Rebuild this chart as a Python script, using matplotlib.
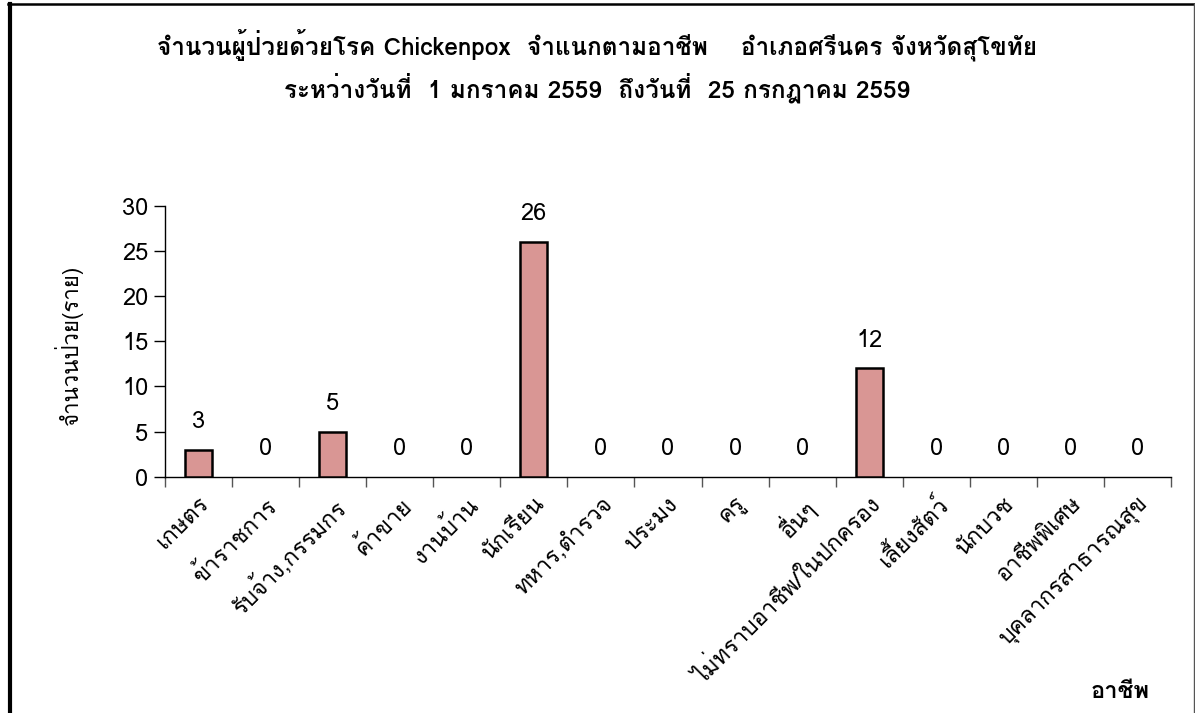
import matplotlib
matplotlib.use("Agg")
import matplotlib.pyplot as plt
from matplotlib import font_manager
from matplotlib.ft2font import FT2Font
from matplotlib.lines import Line2D

# ---------------- data ----------------
categories = ["เกษตร", "ข้าราชการ", "รับจ้าง,กรรมกร", "ค้าขาย", "งานบ้าน", "นักเรียน",
              "ทหาร,ตำรวจ", "ประมง", "ครู", "อื่นๆ", "ไม่ทราบอาชีพ/ในปกครอง",
              "เลี้ยงสัตว์", "นักบวช", "อาชีพพิเศษ", "บุคลากรสาธารณสุข"]
values = [3, 0, 5, 0, 0, 26, 0, 0, 0, 0, 12, 0, 0, 0, 0]
yticks = [0, 5, 10, 15, 20, 25, 30]
title_line1 = "จำนวนผู้ป่วยด้วยโรค Chickenpox  จำแนกตามอาชีพ    อำเภอศรีนคร จังหวัดสุโขทัย"
title_line2 = "ระหว่างวันที่  1 มกราคม 2559  ถึงวันที่  25 กรกฎาคม 2559"
ylabel = "จำนวนป่วย(ราย)"
xlabel = "อาชีพ"

# ---------------- find a font with Thai glyphs ----------------
thai_family = None
preferred = ["Tahoma", "Leelawadee", "Loma", "Garuda", "Noto Sans Thai", "Noto Sans Thai UI",
             "Waree", "Norasi", "Kinnari", "Sawasdee", "Umpush", "Laksaman", "TH Sarabun New"]
found = {}
for fe in font_manager.fontManager.ttflist:
    try:
        cm = FT2Font(fe.fname).get_charmap()
        if 0x0E01 in cm:
            found.setdefault(fe.name, fe.fname)
    except Exception:
        pass
for p in preferred:
    if p in found:
        thai_family = p
        break
if thai_family is None and found:
    thai_family = sorted(found)[0]
fam = ([thai_family] if thai_family else []) + ["DejaVu Sans"]
plt.rcParams["font.family"] = fam

# ---------------- figure ----------------
fig = plt.figure(figsize=(11.95, 7.13), dpi=100)
ax = fig.add_axes([165/1195, 1-476.7/713, (1171-165)/1195, (476.7-206)/713])

x = list(range(len(categories)))
bars = ax.bar(x, values, width=0.4, color="#D99694", edgecolor="black", linewidth=1.8, zorder=3)
for b, v in zip(bars, values):
    if v == 0:
        b.set_linewidth(0)
for xi, v in zip(x, values):
    ax.annotate(str(v), (xi, v), xytext=(0, 12), textcoords="offset points",
                ha="center", va="bottom", fontsize=17)

ax.set_xlim(-0.5, len(categories) - 0.5)
ax.set_ylim(0, 30)
ax.set_yticks(yticks)
ax.set_yticklabels([str(t) for t in yticks], fontsize=17)
ax.tick_params(axis="y", length=8, width=1, pad=4)

ax.set_xticks([i - 0.5 for i in range(len(categories) + 1)])
ax.set_xticklabels([])
ax.tick_params(axis="x", length=7, width=1, color="#555555")
ax.set_xticks(x, minor=True)
ax.set_xticklabels(categories, minor=True, rotation=45, ha="right", va="top",
                   rotation_mode="anchor", fontsize=16.5)
ax.tick_params(axis="x", which="minor", length=0, pad=12)

for s in ["top", "right"]:
    ax.spines[s].set_visible(False)
ax.spines["left"].set_linewidth(1)
ax.spines["bottom"].set_linewidth(1)

fig.text(68/1195, 1-345/713, ylabel, rotation=90, ha="center", va="center", fontsize=16)
fig.text(1150/1195, 1-692/713, xlabel, ha="right", va="center", fontsize=17, fontweight="bold")
fig.text(597/1195, 1-45/713, title_line1, ha="center", va="center", fontsize=17.5, fontweight="bold")
fig.text(597/1195, 1-88/713, title_line2, ha="center", va="center", fontsize=17.5, fontweight="bold")

# frame
fig.add_artist(Line2D([10/1195, 10/1195], [0, 1-4/713], transform=fig.transFigure,
                      color="black", linewidth=3))
fig.add_artist(Line2D([8/1195, 1194/1195], [1-4/713, 1-4/713], transform=fig.transFigure,
                      color="black", linewidth=1.8))
fig.add_artist(Line2D([1193.5/1195, 1193.5/1195], [0, 1-4/713], transform=fig.transFigure,
                      color="#555555", linewidth=1))

fig.savefig("out.png", dpi=100)
